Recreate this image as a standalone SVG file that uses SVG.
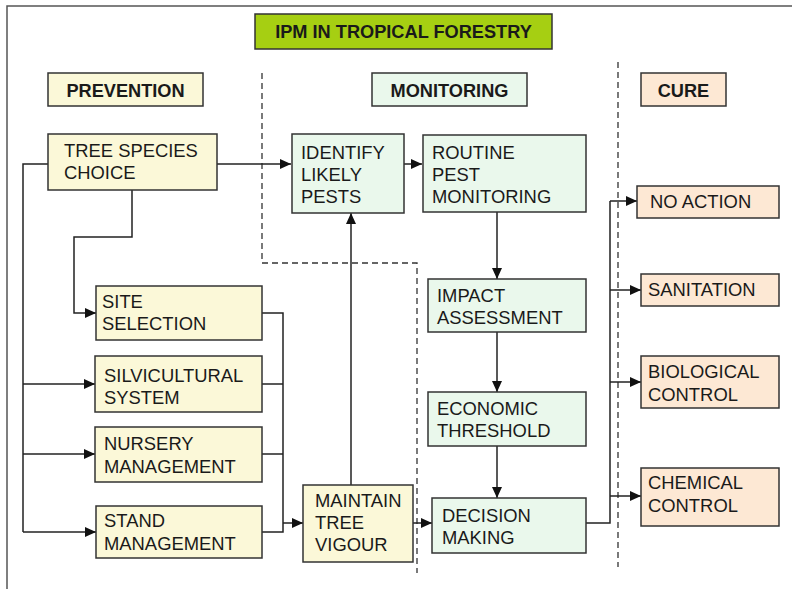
<svg xmlns="http://www.w3.org/2000/svg" width="792" height="589" viewBox="0 0 792 589">
<style>
text{font-family:"Liberation Sans",Arial,sans-serif;font-size:18.4px;fill:#1a1a1a}
.h{font-weight:bold;text-anchor:middle;font-size:18.2px}
.box{stroke:#333;stroke-width:1.5}
.y{fill:#fbf8d8}.g{fill:#eaf8ec}.p{fill:#fde8d4}
.ln{fill:none;stroke:#222;stroke-width:1.5}
.ar{fill:none;stroke:#222;stroke-width:1.5;marker-end:url(#ah)}
.ds{fill:none;stroke:#333;stroke-width:1.3;stroke-dasharray:6,4}
</style>
<defs>
<marker id="ah" markerUnits="userSpaceOnUse" markerWidth="12" markerHeight="10" refX="11" refY="5" orient="auto">
<path d="M0,0 L11,5 L0,10 Z" fill="#111"/>
</marker>
</defs>
<rect width="792" height="589" fill="#fff"/>
<path d="M7,589 V6 H792" fill="none" stroke="#555" stroke-width="1.5"/>
<g id="dividers">
<path class="ds" d="M262,73 V263 H417 V573"/>
<path class="ds" d="M618,62 V567"/>
</g>
<g id="title"><rect class="box" x="255" y="14" width="297" height="35" fill="#a6cf12"/><text class="h" x="403.5" y="38">IPM IN TROPICAL FORESTRY</text></g>
<g id="prevention"><rect class="box y" x="48" y="73" width="155" height="33"/><text class="h" x="125.5" y="97">PREVENTION</text></g>
<g id="monitoring"><rect class="box g" x="372" y="73" width="155" height="33"/><text class="h" x="449.5" y="97">MONITORING</text></g>
<g id="cure"><rect class="box p" x="641" y="73" width="85" height="33"/><text class="h" x="683.5" y="97">CURE</text></g>
<g id="connectors">
<path class="ar" d="M217,164 H291"/>
<path class="ar" d="M404,164 H422"/>
<path class="ln" d="M48,164 H23 V532"/>
<path class="ar" d="M23,384 H95"/>
<path class="ar" d="M23,454 H95"/>
<path class="ar" d="M23,532 H96"/>
<path class="ar" d="M132,190 V237 H74 V313 H96"/>
<path class="ln" d="M262,313 H283 V532 H262"/>
<path class="ln" d="M262,384 H283"/>
<path class="ln" d="M262,454 H283"/>
<path class="ar" d="M283,523 H303"/>
<path class="ar" d="M351,485 V213"/>
<path class="ar" d="M413,523 H432"/>
<path class="ar" d="M497,212 V279"/>
<path class="ar" d="M497,332 V392"/>
<path class="ar" d="M497,446 V498"/>
<path class="ln" d="M586,523 H610 V201"/>
<path class="ar" d="M610,201 H637"/>
<path class="ar" d="M610,290 H641"/>
<path class="ar" d="M610,382 H641"/>
<path class="ar" d="M610,496 H641"/>
</g>
<g id="tree-species"><rect class="box y" x="48" y="134" width="169" height="56"/><text x="64" y="157">TREE SPECIES</text><text x="64" y="179">CHOICE</text></g>
<g id="site-selection"><rect class="box y" x="96" y="286" width="166" height="54"/><text x="102" y="308">SITE</text><text x="102" y="330">SELECTION</text></g>
<g id="silvicultural"><rect class="box y" x="95" y="356" width="167" height="56"/><text x="104" y="382">SILVICULTURAL</text><text x="104" y="404">SYSTEM</text></g>
<g id="nursery"><rect class="box y" x="95" y="427" width="167" height="55"/><text x="104" y="450">NURSERY</text><text x="104" y="473">MANAGEMENT</text></g>
<g id="stand"><rect class="box y" x="96" y="506" width="166" height="52"/><text x="104" y="527">STAND</text><text x="104" y="550">MANAGEMENT</text></g>
<g id="maintain"><rect class="box y" x="303" y="485" width="110" height="77"/><text x="315" y="507">MAINTAIN</text><text x="315" y="529">TREE</text><text x="315" y="551">VIGOUR</text></g>
<g id="identify"><rect class="box g" x="292" y="134" width="112" height="79"/><text x="301" y="159">IDENTIFY</text><text x="301" y="181">LIKELY</text><text x="301" y="203">PESTS</text></g>
<g id="routine"><rect class="box g" x="423" y="135" width="163" height="77"/><text x="432" y="159">ROUTINE</text><text x="432" y="181">PEST</text><text x="432" y="203">MONITORING</text></g>
<g id="impact"><rect class="box g" x="428" y="279" width="158" height="53"/><text x="437" y="302">IMPACT</text><text x="437" y="324">ASSESSMENT</text></g>
<g id="economic"><rect class="box g" x="428" y="392" width="158" height="54"/><text x="437" y="415">ECONOMIC</text><text x="437" y="437">THRESHOLD</text></g>
<g id="decision"><rect class="box g" x="432" y="498" width="154" height="55"/><text x="442" y="522">DECISION</text><text x="442" y="544">MAKING</text></g>
<g id="no-action"><rect class="box p" x="637" y="186" width="142" height="32"/><text x="650" y="208">NO ACTION</text></g>
<g id="sanitation"><rect class="box p" x="641" y="274" width="138" height="32"/><text x="648" y="296">SANITATION</text></g>
<g id="biological"><rect class="box p" x="641" y="356" width="138" height="52"/><text x="648" y="378">BIOLOGICAL</text><text x="648" y="401">CONTROL</text></g>
<g id="chemical"><rect class="box p" x="641" y="468" width="138" height="58"/><text x="648" y="489">CHEMICAL</text><text x="648" y="512">CONTROL</text></g>
</svg>
